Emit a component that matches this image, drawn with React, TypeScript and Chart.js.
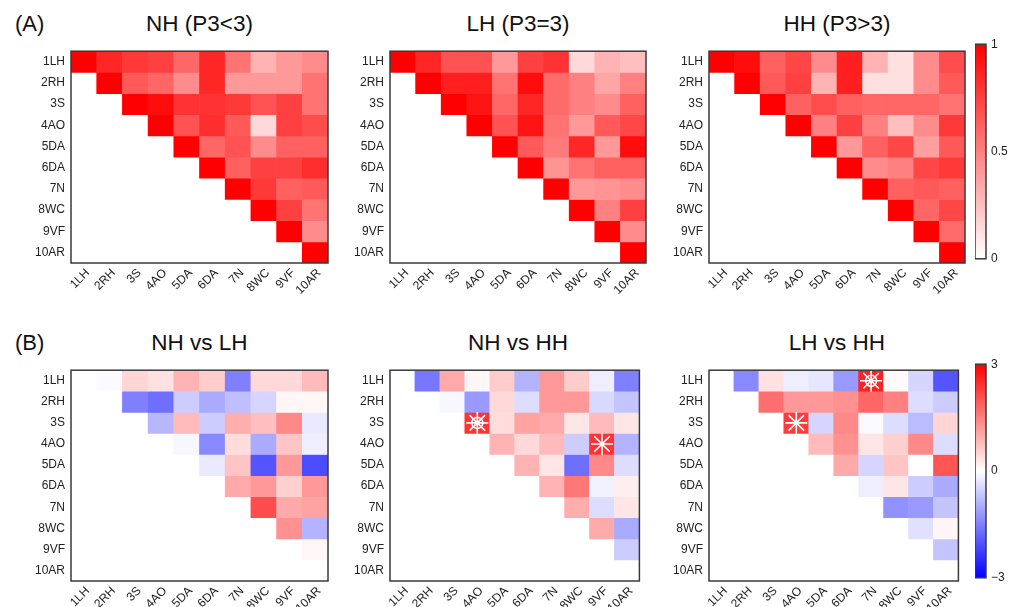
import React, { useEffect, useRef } from 'react';
import { Chart, registerables } from 'chart.js';
Chart.register(...registerables);

const FONT = '"Liberation Sans", Arial, Helvetica, sans-serif';

// ---------- data ----------
const labels = ['1LH', '2RH', '3S', '4AO', '5DA', '6DA', '7N', '8WC', '9VF', '10AR'];

// correlation panels: row i lists values for columns i..9
const nhCorr = [
  [1, 0.85, 0.78, 0.75, 0.6, 0.85, 0.55, 0.3, 0.4, 0.45],
  [1, 0.65, 0.6, 0.45, 0.85, 0.4, 0.4, 0.4, 0.55],
  [1, 0.95, 0.8, 0.8, 0.78, 0.68, 0.75, 0.55],
  [1, 0.68, 0.82, 0.65, 0.15, 0.75, 0.7],
  [1, 0.6, 0.68, 0.45, 0.62, 0.62],
  [1, 0.62, 0.75, 0.75, 0.82],
  [1, 0.78, 0.62, 0.65],
  [1, 0.75, 0.55],
  [1, 0.45],
  [1],
];
const lhCorr = [
  [1, 0.85, 0.68, 0.68, 0.4, 0.75, 0.8, 0.15, 0.3, 0.25],
  [1, 0.88, 0.88, 0.55, 0.95, 0.58, 0.5, 0.35, 0.5],
  [1, 0.92, 0.6, 0.85, 0.58, 0.5, 0.45, 0.62],
  [1, 0.68, 0.92, 0.55, 0.4, 0.65, 0.72],
  [1, 0.65, 0.52, 0.85, 0.4, 0.95],
  [1, 0.42, 0.55, 0.62, 0.62],
  [1, 0.4, 0.42, 0.45],
  [1, 0.5, 0.75],
  [1, 0.45],
  [1],
];
const hhCorr = [
  [1, 0.95, 0.62, 0.72, 0.45, 0.88, 0.3, 0.12, 0.45, 0.7],
  [1, 0.65, 0.75, 0.3, 0.88, 0.12, 0.12, 0.45, 0.65],
  [1, 0.62, 0.7, 0.62, 0.6, 0.6, 0.6, 0.55],
  [1, 0.5, 0.75, 0.5, 0.25, 0.45, 0.78],
  [1, 0.4, 0.62, 0.72, 0.38, 0.65],
  [1, 0.45, 0.5, 0.72, 0.78],
  [1, 0.62, 0.65, 0.62],
  [1, 0.6, 0.72],
  [1, 0.58],
  [1],
];

// difference panels: row i lists values for columns i+1..9
const nhVsLh = [
  [-0.05, 0.5, 0.35, 0.9, 0.6, -1.5, 0.45, 0.45, 0.8],
  [-1.5, -1.7, -0.6, -1.0, -0.75, -0.5, 0.1, 0.1],
  [-0.85, 0.8, -0.6, 0.95, 0.75, 1.4, -0.25],
  [-0.1, -1.4, 0.4, -1.0, 0.7, -0.2],
  [-0.25, 0.7, -2.0, 1.2, -2.1],
  [1.0, 1.2, 0.55, 1.2],
  [2.1, 1.0, 1.1],
  [1.3, -0.9],
  [0.1],
];
const nhVsHh = [
  [-1.6, 1.0, 0.1, 0.6, -0.9, 1.2, 0.6, -0.2, -1.5],
  [-0.1, -1.2, 0.45, -0.4, 1.2, 1.2, -0.45, -0.7],
  [2.4, 0.4, 1.1, 1.0, 0.3, 0.8, 0.3],
  [0.9, 0.45, 0.8, -0.6, 2.4, -0.9],
  [0.9, 0.3, -1.7, 1.4, -0.4],
  [0.9, 1.6, -0.15, 0.2],
  [0.95, -0.4, 0.3],
  [1.0, -1.0],
  [-0.6],
];
const lhVsHh = [
  [-1.4, 0.35, -0.2, -0.3, -1.2, 2.6, 0.05, -0.5, -2.0],
  [1.7, 1.2, 1.2, 1.3, 1.8, 1.5, -0.4, -0.6],
  [2.3, -0.5, 1.4, -0.05, -0.4, -0.8, 0.5],
  [0.8, 1.3, 0.3, 0.55, 1.4, -0.4],
  [1.0, -0.5, 0.7, 0.0, 2.0],
  [-0.2, 0.3, -0.6, -1.0],
  [-1.3, -1.2, -0.7],
  [-0.35, 0.1],
  [-0.7],
];

// significance markers [row, col]
const nhVsHhSingle = [[3, 8]];
const nhVsHhDouble = [[2, 3]];
const lhVsHhSingle = [[2, 3]];
const lhVsHhDouble = [[0, 6]];

const corrTicks = [0, 0.5, 1];
const corrTickLabels = ['0', '0.5', '1'];
const diffTicks = [-3, 0, 3];
const diffTickLabels = ['\u22123', '0', '3'];
const corrStops: [number, string][] = [[0, '#ffffff'], [1, '#ff0000']];
const diffStops: [number, string][] = [[0, '#0000ff'], [0.5, '#ffffff'], [1, '#ff0000']];

// ---------- colours ----------
function corrColor(v: number) {
  const t = Math.max(0, Math.min(1, v));
  const c = Math.round(255 * (1 - t));
  return `rgb(255,${c},${c})`;
}
function diffColor(v: number) {
  const t = Math.max(-1, Math.min(1, v / 3));
  if (t >= 0) {
    const c = Math.round(255 * (1 - t));
    return `rgb(255,${c},${c})`;
  }
  const c = Math.round(255 * (1 + t));
  return `rgb(${c},${c},255)`;
}

const framePlugin = {
  id: 'frame',
  afterDraw(chart: any) {
    const { ctx, chartArea: a } = chart;
    ctx.save();
    ctx.strokeStyle = '#3a3a3a';
    ctx.lineWidth = 1.5;
    ctx.strokeRect(a.left, a.top, a.right - a.left, a.bottom - a.top);
    ctx.restore();
  },
};

type Area = { l: number; t: number; r: number; b: number };

const YW = 50;
const XH = 48;
const PT = 6;
const PR = 6;

function Heatmap(props: {
  area: Area;
  rows: number[][];
  offset: number;
  color: (v: number) => string;
  single?: number[][];
  double?: number[][];
}) {
  const ref = useRef<HTMLCanvasElement>(null);
  const { area, rows, offset, color, single = [], double = [] } = props;
  const w = area.r - area.l + YW + PR;
  const h = area.b - area.t + PT + XH;
  useEffect(() => {
    const datasets: any[] = [];
    const starBase = {
      type: 'line',
      showLine: false,
      pointBorderColor: '#ffffff',
      pointBackgroundColor: '#ffffff',
      order: 0,
      clip: 10,
    };
    if (single.length) {
      datasets.push({
        ...starBase,
        data: single.map(([r, c]) => ({ x: labels[c], y: r })),
        pointStyle: 'star',
        pointRadius: 11,
        pointBorderWidth: 1.6,
      });
    }
    if (double.length) {
      datasets.push({
        ...starBase,
        data: double.map(([r, c]) => ({ x: labels[c], y: r })),
        pointStyle: 'star',
        pointRadius: 11,
        pointBorderWidth: 1.6,
      });
      datasets.push({
        ...starBase,
        data: double.map(([r, c]) => ({ x: labels[c], y: r })),
        pointStyle: 'circle',
        pointRadius: 5.5,
        pointBackgroundColor: 'rgba(0,0,0,0)',
        pointBorderWidth: 1.6,
      });
    }
    rows.forEach((vals, i) => {
      if (!vals.length) return;
      datasets.push({
        type: 'bar',
        data: vals.map((v, k) => ({ x: labels[i + offset + k], y: [i - 0.5, i + 0.5], v })),
        backgroundColor: (ctx: any) => (ctx.raw ? color(ctx.raw.v) : '#fff'),
        borderWidth: 0,
        barPercentage: 1,
        categoryPercentage: 1,
        grouped: false,
        order: 1,
      });
    });
    const chart = new Chart(ref.current!, {
      type: 'bar',
      data: { labels, datasets },
      plugins: [framePlugin],
      options: {
        responsive: false,
        animation: false,
        events: [],
        layout: { padding: { top: PT, right: PR, left: 0, bottom: 0 } },
        plugins: { legend: { display: false }, tooltip: { enabled: false } },
        scales: {
          x: {
            type: 'category',
            labels,
            offset: true,
            grid: { display: false, drawTicks: false },
            border: { display: false },
            ticks: {
              minRotation: 45,
              maxRotation: 45,
              autoSkip: false,
              padding: 3,
              labelOffset: 4,
              color: '#222',
              font: { family: FONT, size: 12 },
            },
            afterFit: (s: any) => {
              s.height = XH;
            },
          },
          y: {
            type: 'linear',
            min: -0.5,
            max: 9.5,
            reverse: true,
            afterBuildTicks: (s: any) => {
              s.ticks = labels.map((_, i) => ({ value: i }));
            },
            grid: { display: false, drawTicks: false },
            border: { display: false },
            ticks: {
              autoSkip: false,
              padding: 6,
              color: '#222',
              font: { family: FONT, size: 12 },
              callback: (v: any) => labels[v] ?? '',
            },
            afterFit: (s: any) => {
              s.width = YW;
            },
          },
        },
      } as any,
    });
    return () => chart.destroy();
  }, []);
  return (
    <canvas
      ref={ref}
      width={w}
      height={h}
      style={{ position: 'absolute', left: area.l - YW, top: area.t - PT, width: w, height: h }}
    />
  );
}

const CBW = 32;
const CBP = 10;

function ColorBar(props: { area: Area; min: number; max: number; ticks: number[]; tickLabels: string[]; stops: [number, string][] }) {
  const ref = useRef<HTMLCanvasElement>(null);
  const { area, min, max, ticks, tickLabels, stops } = props;
  const w = area.r - area.l + CBW;
  const h = area.b - area.t + 2 * CBP;
  useEffect(() => {
    const chart = new Chart(ref.current!, {
      type: 'bar',
      data: {
        labels: ['c'],
        datasets: [
          {
            data: [[min, max]] as any,
            backgroundColor: (ctx: any) => {
              const a = ctx.chart.chartArea;
              if (!a) return '#fff';
              const g = ctx.chart.ctx.createLinearGradient(0, a.bottom, 0, a.top);
              stops.forEach(([o, c]) => g.addColorStop(o, c));
              return g;
            },
            borderWidth: 0,
            barPercentage: 1,
            categoryPercentage: 1,
          },
        ],
      },
      plugins: [framePlugin],
      options: {
        responsive: false,
        animation: false,
        events: [],
        layout: { padding: { top: CBP, bottom: CBP, left: 0, right: 0 } },
        plugins: { legend: { display: false }, tooltip: { enabled: false } },
        scales: {
          x: { display: false, offset: true },
          y: {
            position: 'right',
            min,
            max,
            afterBuildTicks: (s: any) => {
              s.ticks = ticks.map((v) => ({ value: v }));
            },
            grid: { display: false, drawTicks: false },
            border: { display: false },
            ticks: {
              padding: 5,
              color: '#222',
              font: { family: FONT, size: 12 },
              callback: (v: any) => tickLabels[ticks.indexOf(v)] ?? '',
            },
            afterFit: (s: any) => {
              s.width = CBW;
            },
          },
        },
      } as any,
    });
    return () => chart.destroy();
  }, []);
  return (
    <canvas
      ref={ref}
      width={w}
      height={h}
      style={{ position: 'absolute', left: area.l, top: area.t - CBP, width: w, height: h }}
    />
  );
}

function Title(props: { text: string; area: Area; yc: number }) {
  const { text, area, yc } = props;
  return (
    <div
      style={{
        position: 'absolute',
        left: area.l,
        width: area.r - area.l,
        top: yc - 14,
        height: 28,
        lineHeight: '28px',
        textAlign: 'center',
        fontSize: 22.5,
        color: '#111',
        whiteSpace: 'nowrap',
      }}
    >
      {text}
    </div>
  );
}

function Tag(props: { text: string; x: number; yc: number }) {
  return (
    <div
      style={{
        position: 'absolute',
        left: props.x,
        top: props.yc - 14,
        height: 28,
        lineHeight: '28px',
        fontSize: 22,
        color: '#111',
      }}
    >
      {props.text}
    </div>
  );
}

export default function App() {
  const a1 = { l: 71, t: 44, r: 328, b: 263 };
  const a2 = { l: 390, t: 44, r: 646, b: 263 };
  const a3 = { l: 709, t: 44, r: 965, b: 263 };
  const b1 = { l: 71, t: 363, r: 328, b: 581 };
  const b2 = { l: 390, t: 363, r: 646, b: 581 };
  const b3 = { l: 709, t: 363, r: 965, b: 581 };
  const c1 = { l: 975, t: 42, r: 986, b: 261 };
  const c2 = { l: 975, t: 362, r: 986, b: 580 };
  return (
    <div
      style={{
        position: 'fixed',
        left: 0,
        top: 0,
        width: 1014,
        height: 607,
        overflow: 'hidden',
        background: '#fff',
        fontFamily: FONT,
      }}
    >
      <Tag text="(A)" x={15} yc={24} />
      <Tag text="(B)" x={15} yc={343} />
      <Title text="NH (P3<3)" area={a1} yc={24} />
      <Title text="LH (P3=3)" area={a2} yc={24} />
      <Title text="HH (P3>3)" area={a3} yc={24} />
      <Title text="NH vs LH" area={b1} yc={343} />
      <Title text="NH vs HH" area={b2} yc={343} />
      <Title text="LH vs HH" area={b3} yc={343} />
      <Heatmap area={a1} rows={nhCorr} offset={0} color={corrColor} />
      <Heatmap area={a2} rows={lhCorr} offset={0} color={corrColor} />
      <Heatmap area={a3} rows={hhCorr} offset={0} color={corrColor} />
      <Heatmap area={b1} rows={nhVsLh} offset={1} color={diffColor} />
      <Heatmap area={b2} rows={nhVsHh} offset={1} color={diffColor} single={nhVsHhSingle} double={nhVsHhDouble} />
      <Heatmap area={b3} rows={lhVsHh} offset={1} color={diffColor} single={lhVsHhSingle} double={lhVsHhDouble} />
      <ColorBar area={c1} min={0} max={1} ticks={corrTicks} tickLabels={corrTickLabels} stops={corrStops} />
      <ColorBar area={c2} min={-3} max={3} ticks={diffTicks} tickLabels={diffTickLabels} stops={diffStops} />
    </div>
  );
}
